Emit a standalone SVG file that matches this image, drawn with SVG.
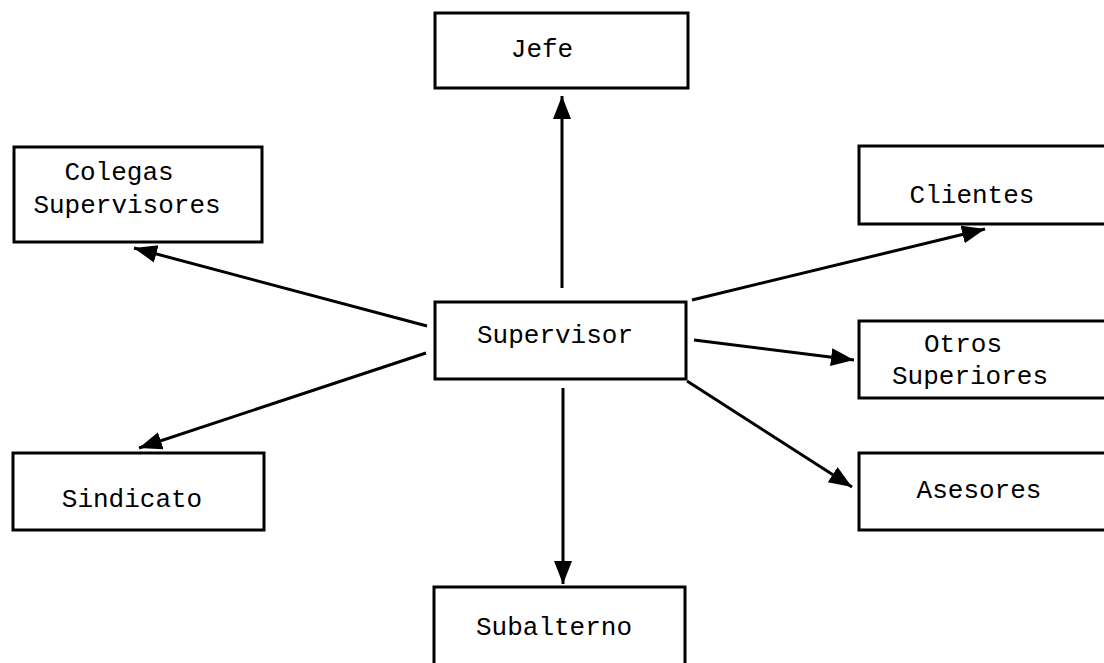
<svg xmlns="http://www.w3.org/2000/svg" width="1104" height="663" viewBox="0 0 1104 663">
  <style>
    .box { fill: #fff; stroke: #000; stroke-width: 3; }
    .lbl { font-family: "Liberation Mono", "DejaVu Sans Mono", monospace; font-size: 26px; fill: #000; text-anchor: middle; }
    .link { stroke: #000; stroke-width: 3; fill: none; marker-end: url(#head); }
  </style>
  <defs>
    <marker id="head" markerUnits="userSpaceOnUse" markerWidth="26" markerHeight="20" refX="23" refY="9" orient="auto">
      <path d="M0,0 L23,9 L0,18 Z" fill="#000"/>
    </marker>
  </defs>
  <rect width="1104" height="663" fill="#fff"/>

  <g id="connectors">
    <line class="link" x1="562" y1="288" x2="562" y2="96"/>
    <line class="link" x1="563" y1="388" x2="563" y2="584"/>
    <line class="link" x1="427" y1="326" x2="134" y2="248"/>
    <line class="link" x1="426" y1="353" x2="139" y2="448"/>
    <line class="link" x1="692" y1="300" x2="985" y2="229"/>
    <line class="link" x1="694" y1="340" x2="854" y2="360"/>
    <line class="link" x1="687" y1="381" x2="852" y2="487"/>
  </g>

  <g id="jefe">
    <rect class="box" x="435" y="13" width="253" height="75"/>
    <text class="lbl" x="542" y="57">Jefe</text>
  </g>
  <g id="colegas">
    <rect class="box" x="14" y="147" width="248" height="95"/>
    <text class="lbl" x="119" y="180">Colegas</text>
    <text class="lbl" x="127" y="213">Supervisores</text>
  </g>
  <g id="supervisor">
    <rect class="box" x="435" y="302" width="251" height="77"/>
    <text class="lbl" x="555" y="343">Supervisor</text>
  </g>
  <g id="clientes">
    <rect class="box" x="859" y="146" width="260" height="78"/>
    <text class="lbl" x="972" y="203">Clientes</text>
  </g>
  <g id="otros-superiores">
    <rect class="box" x="859" y="321" width="260" height="77"/>
    <text class="lbl" x="963" y="352">Otros</text>
    <text class="lbl" x="970" y="384">Superiores</text>
  </g>
  <g id="asesores">
    <rect class="box" x="859" y="453" width="260" height="77"/>
    <text class="lbl" x="979" y="498">Asesores</text>
  </g>
  <g id="sindicato">
    <rect class="box" x="13" y="453" width="251" height="77"/>
    <text class="lbl" x="132" y="507">Sindicato</text>
  </g>
  <g id="subalterno">
    <rect class="box" x="434" y="587" width="251" height="90"/>
    <text class="lbl" x="554" y="635">Subalterno</text>
  </g>
</svg>
